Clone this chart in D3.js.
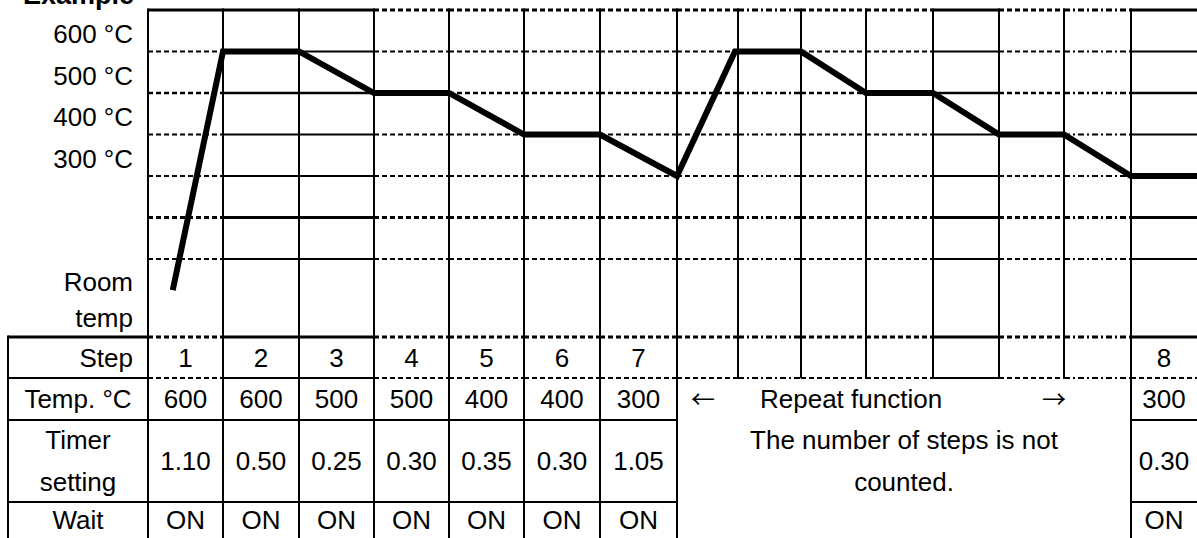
<!DOCTYPE html>
<html>
<head>
<meta charset="utf-8">
<script src="https://cdn.jsdelivr.net/npm/d3@7"></script>
<style>
  html, body { margin: 0; padding: 0; background: #fff; }
  svg { display: block; }
  text { font-family: "Liberation Sans", Arial, sans-serif; fill: #000; }
</style>
</head>
<body>
<svg id="chart" width="1197" height="538"></svg>
<script>
// ---------- data ----------
const gridTemps = [700, 600, 500, 400, 300, 200, 100];
const tempTicks = [600, 500, 400, 300];
const tempTickLabels = ["600 °C", "500 °C", "400 °C", "300 °C"];
const roomLabel = ["Room", "temp"];
const profileCol = [0.33, 1, 2, 3, 4, 5, 6, 7, 7.95, 9, 10, 11, 12, 13, 14, 15];
const profileTemp = [25, 600, 600, 500, 500, 400, 400, 300, 600, 600, 500, 500, 400, 400, 300, 300];
const rowLabels = ["Step", "Temp. °C", "Timer\nsetting", "Wait"];
const stepNames = ["1", "2", "3", "4", "5", "6", "7", "8"];
const stepCols = [0, 1, 2, 3, 4, 5, 6, 14];
const stepTemps = [600, 600, 500, 500, 400, 400, 300, 300];
const timerSettings = ["1.10", "0.50", "0.25", "0.30", "0.35", "0.30", "1.05", "0.30"];
const waitFlags = ["ON", "ON", "ON", "ON", "ON", "ON", "ON", "ON"];
const repeatText = ["←", "Repeat function", "→"];
const repeatNote = ["The number of steps is not", "counted."];
const exampleTitle = "Example";

// ---------- layout ----------
const colEdges = [148, 223, 299, 374, 449, 524, 600, 677, 738, 801, 866, 933, 999, 1064, 1131, 1197];
const colStyle = ["dash", "solid", "solid", "dash", "dash", "dash", "dash", "dash", "dashdot", "dash", "dash", "solid", "dash", "dashdot", "solid"];
const tableY = [337, 378, 420, 502, 540];
const tableLeft = 8;
const FS = 26;
const dashes = { solid: null, dash: "5,3", dashdot: "6,3,2,3" };

const svg = d3.select("#chart");
const x = d3.scaleLinear().domain(d3.range(colEdges.length)).range(colEdges);
const y = d3.scaleLinear().domain([100, 700]).range([259, 10]);

const g = svg.append("g");

function seg(x1, x2, yy, style, w) {
  g.append("line")
    .attr("x1", x1).attr("x2", x2).attr("y1", yy).attr("y2", yy)
    .attr("stroke", "#000").attr("stroke-width", w)
    .attr("stroke-dasharray", dashes[style]);
}

// horizontal grid lines in chart area
const gridWidth = { 700: 3, 600: 2, 500: 2.5, 400: 2, 300: 2, 200: 3, 100: 2 };
gridTemps.forEach(t => {
  for (let c = 0; c < colEdges.length - 1; c++) {
    let st = colStyle[c];
    if (t === 700 && c === 0) st = "solid";
    seg(x(c), x(c + 1), y(t), st, gridWidth[t]);
  }
});

// table top line (Step row top) and step row bottom
for (let c = 0; c < colEdges.length - 1; c++) {
  seg(x(c), x(c + 1), tableY[0], colStyle[c], 3);
  seg(x(c), x(c + 1), tableY[1], c === 14 ? "dash" : colStyle[c], 2);
}
seg(tableLeft, colEdges[0], tableY[0], "solid", 3);
seg(tableLeft, colEdges[0], tableY[1], "solid", 2);
// lower table rows lines
[tableY[2], tableY[3]].forEach(yy => {
  seg(tableLeft, x(7), yy, "solid", 2);
  seg(x(14), x(15), yy, "solid", 2);
});

// vertical lines
function vline(xx, y1, y2) {
  g.append("line").attr("x1", xx).attr("x2", xx).attr("y1", y1).attr("y2", y2)
    .attr("stroke", "#000").attr("stroke-width", 2);
}
vline(tableLeft, tableY[0] - 1.5, tableY[4]);
for (let i = 0; i < colEdges.length - 1; i++) {
  const full = (i <= 7 || i === 14);
  vline(x(i), y(700) - 1.5, full ? tableY[4] : tableY[1]);
}

// temperature profile
const line = d3.line().x(d => x(d[0])).y(d => y(d[1]));
g.append("path")
  .datum(profileCol.map((c, i) => [c, profileTemp[i]]))
  .attr("d", line)
  .attr("fill", "none").attr("stroke", "#000").attr("stroke-width", 6)
  .attr("stroke-linejoin", "miter").attr("stroke-linecap", "butt");

// y labels
tempTicks.forEach((t, i) => {
  g.append("text").attr("x", 133).attr("y", y(t) - 8.5)
    .attr("text-anchor", "end").attr("font-size", FS).text(tempTickLabels[i]);
});
g.append("text").attr("x", 133).attr("y", 291).attr("text-anchor", "end").attr("font-size", FS).text(roomLabel[0]);
g.append("text").attr("x", 133).attr("y", 327).attr("text-anchor", "end").attr("font-size", FS).text(roomLabel[1]);

// title (cut off at top, as in the original)
g.append("text").attr("x", 23).attr("y", 4).attr("font-size", 27).attr("font-weight", "bold").text(exampleTitle);

// table text
function rowCenter(r) { return (tableY[r] + tableY[r + 1]) / 2; }
function cellText(cx, cy, txt, anchor) {
  return g.append("text").attr("x", cx).attr("y", cy + FS * 0.36)
    .attr("text-anchor", anchor || "middle").attr("font-size", FS).text(txt);
}
const labelCx = (tableLeft + colEdges[0]) / 2;
cellText(133, rowCenter(0), rowLabels[0], "end");
cellText(labelCx, rowCenter(1), rowLabels[1]);
const tl = rowLabels[2].split("\n");
cellText(labelCx, rowCenter(2) - 21, tl[0]);
cellText(labelCx, rowCenter(2) + 21, tl[1]);
cellText(labelCx, rowCenter(3) - 1, rowLabels[3]);

stepNames.forEach((s, i) => {
  const cx = (x(stepCols[i]) + x(stepCols[i] + 1)) / 2;
  cellText(cx, rowCenter(0), s);
  cellText(cx, rowCenter(1), String(stepTemps[i]));
  cellText(cx, rowCenter(2), timerSettings[i]);
  cellText(cx, rowCenter(3) - 1, waitFlags[i]);
});

// merged repeat cell
cellText(703, rowCenter(1), repeatText[0]).style("font-family", "'Noto Sans CJK JP', 'DejaVu Sans', sans-serif").attr("font-size", 24);
cellText(760, rowCenter(1), repeatText[1], "start");
cellText(1054, rowCenter(1), repeatText[2]).style("font-family", "'Noto Sans CJK JP', 'DejaVu Sans', sans-serif").attr("font-size", 24);
const mcx = (x(7) + x(14)) / 2;
cellText(mcx, rowCenter(2) - 21, repeatNote[0]);
cellText(mcx, rowCenter(2) + 21, repeatNote[1]);
</script>
</body>
</html>
